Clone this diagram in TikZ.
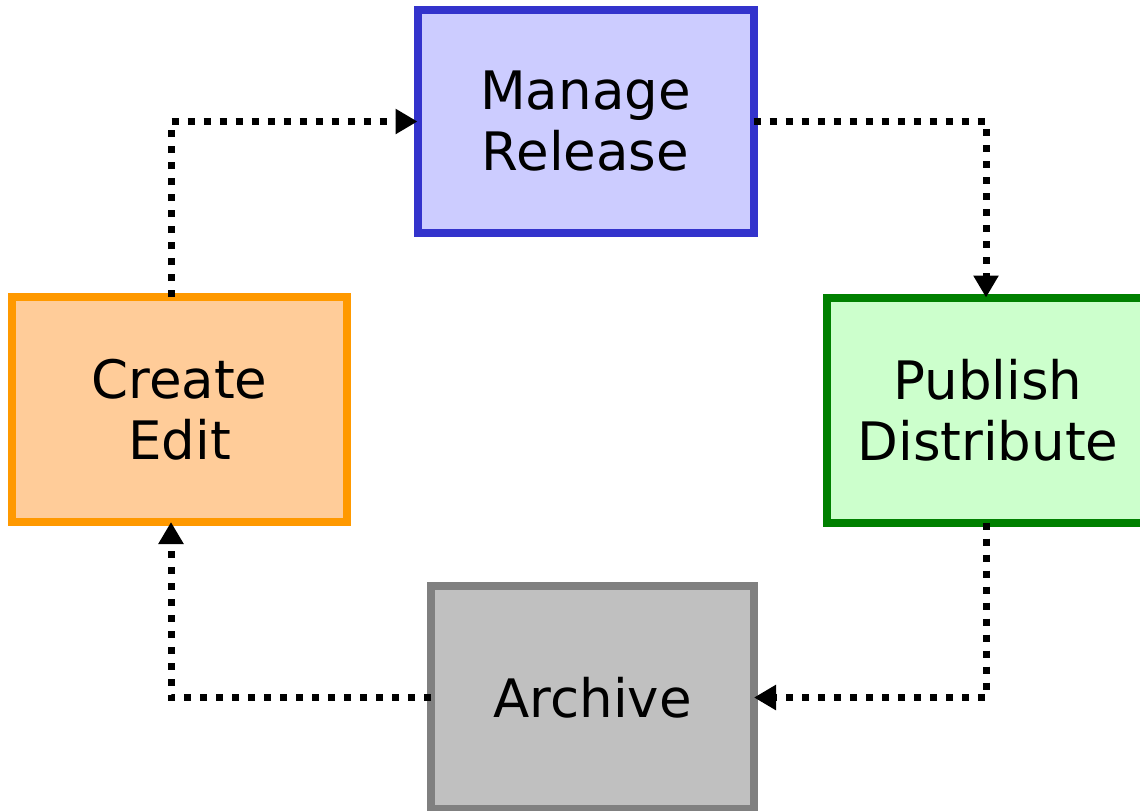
\documentclass[tikz,border=0pt]{standalone}
\usepackage{fontspec}
\setmainfont{DejaVu Sans}
\usetikzlibrary{arrows.meta}

\tikzset{
  stage/.style={draw,line width=4pt,minimum width=168pt,minimum height=111.5pt,align=center,
    font=\fontsize{26.5}{30.5}\selectfont,inner sep=0pt,outer sep=0pt},
  flow/.style={line width=3.5pt,dash pattern=on 3.5pt off 4.5pt,-{Triangle[width=12pt,length=11pt]}}
}
\definecolor{manfill}{HTML}{CCCCFF}\definecolor{manline}{HTML}{3333CC}
\definecolor{crefill}{HTML}{FFCC99}\definecolor{creline}{HTML}{FF9900}
\definecolor{pubfill}{HTML}{CCFFCC}\definecolor{publine}{HTML}{008000}
\definecolor{arcfill}{HTML}{C0C0C0}\definecolor{arcline}{HTML}{808080}

\begin{document}
\begin{tikzpicture}[x=0.5pt,y=-0.5pt]
\useasboundingbox (0,0) rectangle (1140,810);

\node[stage,fill=manfill,draw=manline] (manage) at (585.5,121.5) {Manage\\Release};
\node[stage,fill=crefill,draw=creline,minimum width=167.5pt,minimum height=112.5pt] (create) at (179.5,409.5) {Create\\Edit};
\node[stage,fill=pubfill,draw=publine,minimum width=161pt,minimum height=112.5pt] (publish) at (988,410) {Publish\\Distribute};
\node[stage,fill=arcfill,draw=arcline,minimum width=161.5pt] (archive) at (592.5,697.5) {Archive};

\draw[flow] ([xshift=-4.25pt]create.north) |- (manage.west);
\draw[flow] (manage.east) -| ([xshift=-1pt]publish.north);
\draw[flow] ([xshift=-1pt]publish.south) |- (archive.east);
\draw[flow] (archive.west) -| ([xshift=-4.25pt]create.south);

% dots: line width 3.5pt, on 3.5pt off 4.5pt
\end{tikzpicture}
\end{document}
